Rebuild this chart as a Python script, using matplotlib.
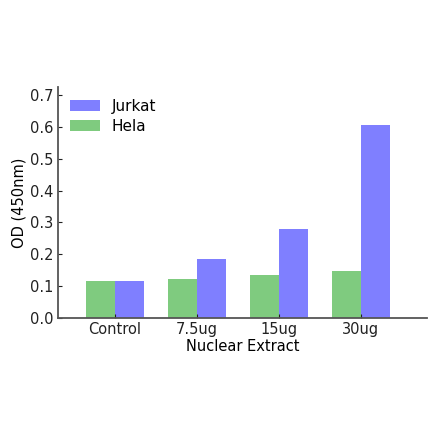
import matplotlib
matplotlib.use('Agg')
import matplotlib.pyplot as plt
import numpy as np

categories = ['Control', '7.5ug', '15ug', '30ug']
hela = [0.115, 0.122, 0.134, 0.147]
jurkat = [0.115, 0.185, 0.279, 0.605]

x = np.arange(len(categories))
w = 0.35

fig = plt.figure(figsize=(4.4, 4.41), dpi=100)
ax = fig.add_axes([0.132, 0.28, 0.838, 0.522])

ax.bar(x + w/2, jurkat, w, color='#7f7fff', label='Jurkat')
ax.bar(x - w/2, hela, w, color='#7fcb7f', label='Hela')

ax.set_xlim(-0.695, 3.805)
ax.set_ylim(0, 0.725)
ax.set_yticks(np.arange(0, 0.71, 0.1))
ax.set_xticks(x)
ax.set_xticklabels(categories)
ax.set_xlabel('Nuclear Extract', fontsize=10.5, labelpad=1)
ax.set_ylabel('OD (450nm)', fontsize=10.5, labelpad=2)

for s in ['top', 'right']:
    ax.spines[s].set_visible(False)
for s in ['left', 'bottom']:
    ax.spines[s].set_color('#555555')
    ax.spines[s].set_linewidth(1.3)
ax.tick_params(direction='in', length=3, labelsize=10.5, colors='#222222')

ax.legend(loc='upper left', frameon=False, fontsize=11, handlelength=2.0,
          handleheight=0.7, handletextpad=0.75, labelspacing=0.35,
          borderaxespad=0.45, borderpad=0.3)

fig.savefig('out.png', dpi=100)
